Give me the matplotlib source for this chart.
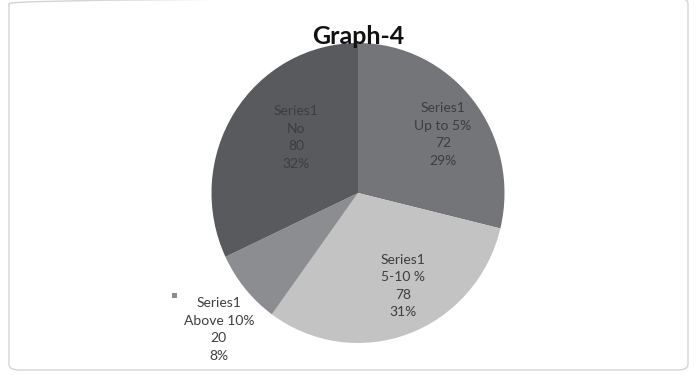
import numpy as np
import matplotlib.pyplot as plt
from matplotlib.patches import FancyBboxPatch, Rectangle

# data
categories = ['Up to 5%', '5-10 %', 'Above 10%', 'No']
values = [72, 78, 20, 80]
percents = ['29%', '31%', '8%', '32%']
series_name = 'Series1'
colors = ['#737578', '#c3c3c3', '#8c8d90', '#585a5d']

# label centres, in pie-radius units
label_pos = [(0.58, 0.39), (0.31, -0.62), (-0.95, -0.91), (-0.42, 0.37)]

W, H = 696, 377
fig = plt.figure(figsize=(W / 100, H / 100), dpi=100)
fig.patch.set_facecolor('white')

# rounded outer frame
frame = FancyBboxPatch((9 / W, 7 / H), 679 / W, 372 / H,
                       boxstyle='round,pad=0,rounding_size=0.015',
                       transform=fig.transFigure, facecolor='none',
                       edgecolor='#d4d4d4', linewidth=1.0, zorder=-1)
fig.patches.append(frame)

cx, cy = 358, 193
rx, ry = 146.5, 150
ax = fig.add_axes([(cx - rx) / W, (H - cy - ry) / H, 2 * rx / W, 2 * ry / H])
ax.pie(values, colors=colors, startangle=90, counterclock=False,
       wedgeprops=dict(edgecolor='none'))
ax.set_aspect('auto')
ax.set_xlim(-1, 1)
ax.set_ylim(-1, 1)
ax.axis('off')

font = ['Lato', 'DejaVu Sans']
for i, cat in enumerate(categories):
    x, y = label_pos[i]
    txt = f"{series_name}\n{cat}\n{values[i]}\n{percents[i]}"
    ax.text(x, y, txt, ha='center', va='center', fontsize=10,
            color='#3d3d3d', linespacing=1.55, family=font)

# legend key next to the outside label
ax.add_patch(Rectangle((-1.27, -0.70), 0.035, 0.035, facecolor=colors[2],
                       edgecolor='none', clip_on=False))

fig.text(cx / W, 1 - 36 / H, 'Graph-4', ha='center', va='center',
         fontsize=18, fontweight='bold', color='#111111', family=font,
         zorder=5)

fig.savefig('out.png', dpi=100, facecolor='white')
